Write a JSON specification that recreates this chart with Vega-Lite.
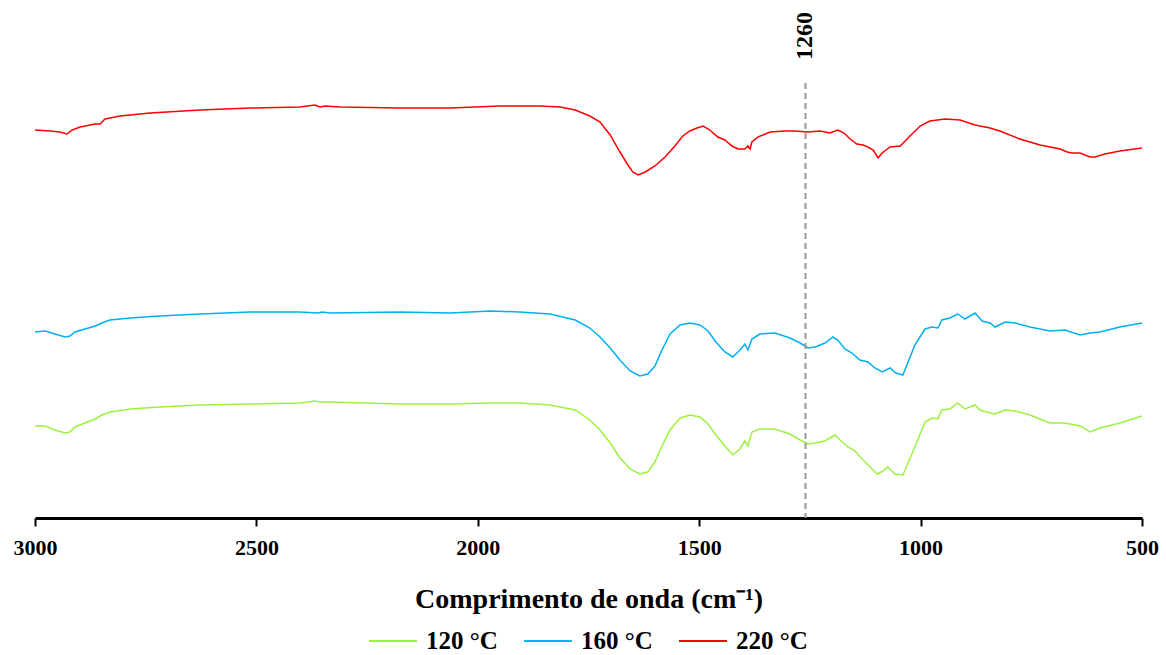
{
  "$schema": "https://vega.github.io/schema/vega-lite/v6.json",
  "width": 1107,
  "height": 518,
  "autosize": {"type": "none"},
  "padding": {"left": 35, "right": 24, "top": 0, "bottom": 137},
  "background": "white",
  "config": {"view": {"stroke": null}, "font": "Liberation Serif"},
  "data": {"values": [
      {"w":3000,"t":388,"s":"220 °C"},{"w":2966,"t":387,"s":"220 °C"},{"w":2944,"t":386,"s":"220 °C"},{"w":2928,"t":384,"s":"220 °C"},{"w":2916,"t":388,"s":"220 °C"},{"w":2898,"t":391,"s":"220 °C"},{"w":2864,"t":394,"s":"220 °C"},{"w":2853,"t":394,"s":"220 °C"},{"w":2842,"t":399,"s":"220 °C"},{"w":2808,"t":402,"s":"220 °C"},{"w":2740,"t":405,"s":"220 °C"},{"w":2627,"t":408,"s":"220 °C"},{"w":2514,"t":410,"s":"220 °C"},{"w":2402,"t":411,"s":"220 °C"},{"w":2368,"t":413,"s":"220 °C"},{"w":2356,"t":411,"s":"220 °C"},{"w":2345,"t":412,"s":"220 °C"},{"w":2311,"t":411,"s":"220 °C"},{"w":2176,"t":410,"s":"220 °C"},{"w":2063,"t":410,"s":"220 °C"},{"w":1950,"t":412,"s":"220 °C"},{"w":1860,"t":412,"s":"220 °C"},{"w":1814,"t":411,"s":"220 °C"},{"w":1780,"t":408,"s":"220 °C"},{"w":1747,"t":402,"s":"220 °C"},{"w":1724,"t":396,"s":"220 °C"},{"w":1701,"t":383,"s":"220 °C"},{"w":1679,"t":366,"s":"220 °C"},{"w":1661,"t":353,"s":"220 °C"},{"w":1650,"t":346,"s":"220 °C"},{"w":1638,"t":343,"s":"220 °C"},{"w":1622,"t":346,"s":"220 °C"},{"w":1600,"t":352,"s":"220 °C"},{"w":1577,"t":361,"s":"220 °C"},{"w":1555,"t":372,"s":"220 °C"},{"w":1537,"t":382,"s":"220 °C"},{"w":1521,"t":387,"s":"220 °C"},{"w":1505,"t":390,"s":"220 °C"},{"w":1491,"t":392,"s":"220 °C"},{"w":1476,"t":388,"s":"220 °C"},{"w":1458,"t":381,"s":"220 °C"},{"w":1442,"t":378,"s":"220 °C"},{"w":1426,"t":372,"s":"220 °C"},{"w":1412,"t":369,"s":"220 °C"},{"w":1397,"t":369,"s":"220 °C"},{"w":1390,"t":372,"s":"220 °C"},{"w":1385,"t":369,"s":"220 °C"},{"w":1381,"t":376,"s":"220 °C"},{"w":1367,"t":381,"s":"220 °C"},{"w":1340,"t":386,"s":"220 °C"},{"w":1306,"t":387,"s":"220 °C"},{"w":1284,"t":387,"s":"220 °C"},{"w":1254,"t":386,"s":"220 °C"},{"w":1227,"t":387,"s":"220 °C"},{"w":1205,"t":385,"s":"220 °C"},{"w":1187,"t":388,"s":"220 °C"},{"w":1173,"t":385,"s":"220 °C"},{"w":1159,"t":379,"s":"220 °C"},{"w":1144,"t":374,"s":"220 °C"},{"w":1130,"t":373,"s":"220 °C"},{"w":1119,"t":371,"s":"220 °C"},{"w":1107,"t":368,"s":"220 °C"},{"w":1096,"t":360,"s":"220 °C"},{"w":1087,"t":365,"s":"220 °C"},{"w":1069,"t":371,"s":"220 °C"},{"w":1046,"t":372,"s":"220 °C"},{"w":1024,"t":382,"s":"220 °C"},{"w":1001,"t":392,"s":"220 °C"},{"w":979,"t":397,"s":"220 °C"},{"w":945,"t":399,"s":"220 °C"},{"w":911,"t":398,"s":"220 °C"},{"w":877,"t":393,"s":"220 °C"},{"w":843,"t":390,"s":"220 °C"},{"w":821,"t":387,"s":"220 °C"},{"w":776,"t":379,"s":"220 °C"},{"w":730,"t":373,"s":"220 °C"},{"w":685,"t":369,"s":"220 °C"},{"w":669,"t":366,"s":"220 °C"},{"w":658,"t":365,"s":"220 °C"},{"w":640,"t":365,"s":"220 °C"},{"w":617,"t":361,"s":"220 °C"},{"w":606,"t":361,"s":"220 °C"},{"w":584,"t":364,"s":"220 °C"},{"w":550,"t":367,"s":"220 °C"},{"w":500,"t":370,"s":"220 °C"},

      {"w":3000,"t":186,"s":"160 °C"},{"w":2977,"t":187,"s":"160 °C"},{"w":2955,"t":184,"s":"160 °C"},{"w":2932,"t":181,"s":"160 °C"},{"w":2921,"t":182,"s":"160 °C"},{"w":2910,"t":186,"s":"160 °C"},{"w":2887,"t":189,"s":"160 °C"},{"w":2864,"t":192,"s":"160 °C"},{"w":2849,"t":195,"s":"160 °C"},{"w":2831,"t":198,"s":"160 °C"},{"w":2785,"t":200,"s":"160 °C"},{"w":2718,"t":202,"s":"160 °C"},{"w":2627,"t":204,"s":"160 °C"},{"w":2514,"t":206,"s":"160 °C"},{"w":2402,"t":206,"s":"160 °C"},{"w":2361,"t":205,"s":"160 °C"},{"w":2352,"t":206,"s":"160 °C"},{"w":2334,"t":205,"s":"160 °C"},{"w":2176,"t":206,"s":"160 °C"},{"w":2063,"t":205,"s":"160 °C"},{"w":1972,"t":207,"s":"160 °C"},{"w":1905,"t":206,"s":"160 °C"},{"w":1837,"t":204,"s":"160 °C"},{"w":1780,"t":198,"s":"160 °C"},{"w":1747,"t":190,"s":"160 °C"},{"w":1724,"t":181,"s":"160 °C"},{"w":1701,"t":170,"s":"160 °C"},{"w":1679,"t":158,"s":"160 °C"},{"w":1656,"t":147,"s":"160 °C"},{"w":1634,"t":142,"s":"160 °C"},{"w":1616,"t":144,"s":"160 °C"},{"w":1600,"t":152,"s":"160 °C"},{"w":1584,"t":168,"s":"160 °C"},{"w":1566,"t":184,"s":"160 °C"},{"w":1543,"t":193,"s":"160 °C"},{"w":1521,"t":195,"s":"160 °C"},{"w":1498,"t":193,"s":"160 °C"},{"w":1480,"t":187,"s":"160 °C"},{"w":1464,"t":177,"s":"160 °C"},{"w":1442,"t":166,"s":"160 °C"},{"w":1424,"t":161,"s":"160 °C"},{"w":1408,"t":168,"s":"160 °C"},{"w":1397,"t":174,"s":"160 °C"},{"w":1390,"t":168,"s":"160 °C"},{"w":1381,"t":179,"s":"160 °C"},{"w":1363,"t":184,"s":"160 °C"},{"w":1329,"t":185,"s":"160 °C"},{"w":1295,"t":180,"s":"160 °C"},{"w":1272,"t":175,"s":"160 °C"},{"w":1254,"t":170,"s":"160 °C"},{"w":1238,"t":171,"s":"160 °C"},{"w":1216,"t":175,"s":"160 °C"},{"w":1198,"t":181,"s":"160 °C"},{"w":1187,"t":178,"s":"160 °C"},{"w":1171,"t":169,"s":"160 °C"},{"w":1155,"t":165,"s":"160 °C"},{"w":1137,"t":158,"s":"160 °C"},{"w":1119,"t":156,"s":"160 °C"},{"w":1103,"t":150,"s":"160 °C"},{"w":1087,"t":146,"s":"160 °C"},{"w":1069,"t":150,"s":"160 °C"},{"w":1056,"t":145,"s":"160 °C"},{"w":1040,"t":143,"s":"160 °C"},{"w":1013,"t":173,"s":"160 °C"},{"w":990,"t":189,"s":"160 °C"},{"w":974,"t":191,"s":"160 °C"},{"w":961,"t":190,"s":"160 °C"},{"w":952,"t":198,"s":"160 °C"},{"w":934,"t":200,"s":"160 °C"},{"w":916,"t":204,"s":"160 °C"},{"w":900,"t":199,"s":"160 °C"},{"w":877,"t":205,"s":"160 °C"},{"w":861,"t":197,"s":"160 °C"},{"w":843,"t":195,"s":"160 °C"},{"w":832,"t":191,"s":"160 °C"},{"w":809,"t":196,"s":"160 °C"},{"w":787,"t":195,"s":"160 °C"},{"w":753,"t":191,"s":"160 °C"},{"w":708,"t":187,"s":"160 °C"},{"w":674,"t":188,"s":"160 °C"},{"w":640,"t":183,"s":"160 °C"},{"w":617,"t":185,"s":"160 °C"},{"w":595,"t":186,"s":"160 °C"},{"w":550,"t":191,"s":"160 °C"},{"w":500,"t":195,"s":"160 °C"},

      {"w":3000,"t":92,"s":"120 °C"},{"w":2977,"t":92,"s":"120 °C"},{"w":2955,"t":88,"s":"120 °C"},{"w":2932,"t":85,"s":"120 °C"},{"w":2921,"t":86,"s":"120 °C"},{"w":2910,"t":91,"s":"120 °C"},{"w":2887,"t":95,"s":"120 °C"},{"w":2864,"t":99,"s":"120 °C"},{"w":2849,"t":103,"s":"120 °C"},{"w":2831,"t":106,"s":"120 °C"},{"w":2785,"t":109,"s":"120 °C"},{"w":2718,"t":111,"s":"120 °C"},{"w":2627,"t":113,"s":"120 °C"},{"w":2514,"t":114,"s":"120 °C"},{"w":2402,"t":115,"s":"120 °C"},{"w":2368,"t":117,"s":"120 °C"},{"w":2356,"t":116,"s":"120 °C"},{"w":2334,"t":116,"s":"120 °C"},{"w":2176,"t":114,"s":"120 °C"},{"w":2063,"t":114,"s":"120 °C"},{"w":1972,"t":115,"s":"120 °C"},{"w":1905,"t":115,"s":"120 °C"},{"w":1837,"t":113,"s":"120 °C"},{"w":1780,"t":108,"s":"120 °C"},{"w":1747,"t":98,"s":"120 °C"},{"w":1724,"t":88,"s":"120 °C"},{"w":1701,"t":75,"s":"120 °C"},{"w":1679,"t":60,"s":"120 °C"},{"w":1656,"t":49,"s":"120 °C"},{"w":1634,"t":44,"s":"120 °C"},{"w":1616,"t":46,"s":"120 °C"},{"w":1600,"t":56,"s":"120 °C"},{"w":1584,"t":72,"s":"120 °C"},{"w":1566,"t":88,"s":"120 °C"},{"w":1543,"t":100,"s":"120 °C"},{"w":1521,"t":103,"s":"120 °C"},{"w":1498,"t":101,"s":"120 °C"},{"w":1480,"t":94,"s":"120 °C"},{"w":1464,"t":84,"s":"120 °C"},{"w":1442,"t":72,"s":"120 °C"},{"w":1424,"t":63,"s":"120 °C"},{"w":1408,"t":69,"s":"120 °C"},{"w":1397,"t":77,"s":"120 °C"},{"w":1390,"t":72,"s":"120 °C"},{"w":1381,"t":86,"s":"120 °C"},{"w":1363,"t":89,"s":"120 °C"},{"w":1329,"t":89,"s":"120 °C"},{"w":1295,"t":84,"s":"120 °C"},{"w":1272,"t":78,"s":"120 °C"},{"w":1254,"t":74,"s":"120 °C"},{"w":1238,"t":75,"s":"120 °C"},{"w":1216,"t":77,"s":"120 °C"},{"w":1193,"t":83,"s":"120 °C"},{"w":1182,"t":78,"s":"120 °C"},{"w":1164,"t":71,"s":"120 °C"},{"w":1148,"t":67,"s":"120 °C"},{"w":1132,"t":59,"s":"120 °C"},{"w":1114,"t":51,"s":"120 °C"},{"w":1098,"t":44,"s":"120 °C"},{"w":1085,"t":47,"s":"120 °C"},{"w":1074,"t":51,"s":"120 °C"},{"w":1058,"t":44,"s":"120 °C"},{"w":1040,"t":43,"s":"120 °C"},{"w":1013,"t":71,"s":"120 °C"},{"w":990,"t":96,"s":"120 °C"},{"w":974,"t":100,"s":"120 °C"},{"w":961,"t":99,"s":"120 °C"},{"w":952,"t":108,"s":"120 °C"},{"w":934,"t":109,"s":"120 °C"},{"w":916,"t":115,"s":"120 °C"},{"w":900,"t":109,"s":"120 °C"},{"w":877,"t":113,"s":"120 °C"},{"w":866,"t":108,"s":"120 °C"},{"w":843,"t":105,"s":"120 °C"},{"w":832,"t":104,"s":"120 °C"},{"w":809,"t":108,"s":"120 °C"},{"w":787,"t":107,"s":"120 °C"},{"w":753,"t":103,"s":"120 °C"},{"w":708,"t":95,"s":"120 °C"},{"w":674,"t":95,"s":"120 °C"},{"w":640,"t":92,"s":"120 °C"},{"w":617,"t":86,"s":"120 °C"},{"w":595,"t":90,"s":"120 °C"},{"w":550,"t":95,"s":"120 °C"},{"w":500,"t":102,"s":"120 °C"}
  ]},
  "layer": [
    {
      "mark": {"type": "line", "strokeWidth": 1.5},
      "encoding": {
        "x": {
          "field": "w", "type": "quantitative",
          "scale": {"domain": [500, 3000], "reverse": true, "nice": false},
          "axis": {
            "values": [3000, 2500, 2000, 1500, 1000, 500],
            "format": "d",
            "title": "Comprimento de onda (cm⁻¹)",
            "titleFont": "Liberation Serif", "titleFontSize": 28, "titleFontWeight": "bold", "titleColor": "black", "titlePadding": 27,
            "labelFont": "Liberation Serif", "labelFontSize": 22, "labelFontWeight": "bold", "labelColor": "black", "labelPadding": 11,
            "domainColor": "black", "domainWidth": 3, "tickColor": "black", "tickWidth": 2, "tickSize": 8,
            "grid": false, "labelFlush": false
          }
        },
        "y": {
          "field": "t", "type": "quantitative",
          "scale": {"domain": [0, 518], "nice": false, "zero": false},
          "axis": null
        },
        "color": {
          "field": "s", "type": "nominal",
          "scale": {"domain": ["120 °C", "160 °C", "220 °C"], "range": ["#9BF23F", "#00B0F0", "#FF0000"]},
          "legend": {
            "title": null, "orient": "none", "direction": "horizontal",
            "legendX": 333, "legendY": 616,
            "symbolType": "stroke", "symbolSize": 2304, "symbolStrokeWidth": 2,
            "labelFont": "Liberation Serif", "labelFontSize": 25, "labelFontWeight": "bold", "labelColor": "black", "labelOffset": 8,
            "columnPadding": 22
          }
        }
      }
    },
    {
      "data": {"values": [{"w": 1260, "top": 435, "bottom": 0}]},
      "mark": {"type": "rule", "color": "#999999", "strokeWidth": 2, "strokeDash": [6, 4]},
      "encoding": {
        "x": {"field": "w", "type": "quantitative"},
        "y": {"field": "top", "type": "quantitative"},
        "y2": {"field": "bottom"}
      }
    },
    {
      "data": {"values": [{"w": 1260, "label": "1260", "labelY": 482}]},
      "mark": {"type": "text", "angle": 270, "align": "center", "baseline": "middle", "fontSize": 24, "fontWeight": "bold", "font": "Liberation Serif", "color": "black"},
      "encoding": {
        "x": {"field": "w", "type": "quantitative"},
        "y": {"field": "labelY", "type": "quantitative"},
        "text": {"field": "label"}
      }
    }
  ]
}
